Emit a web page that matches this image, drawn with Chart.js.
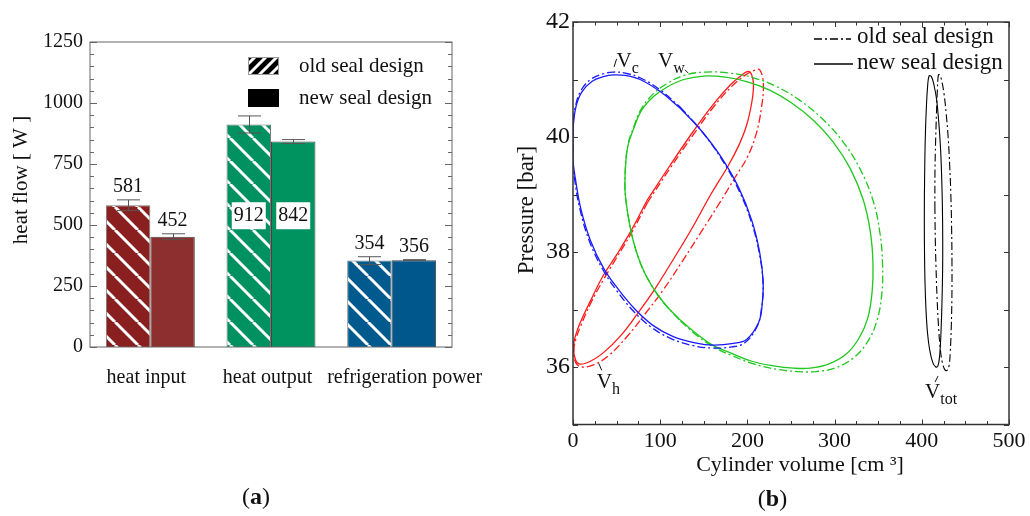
<!DOCTYPE html>
<html>
<head>
<meta charset="utf-8">
<script src="https://cdn.jsdelivr.net/npm/chart.js@4.4.1/dist/chart.umd.min.js"></script>
<style>
  html, body { margin: 0; padding: 0; background: #fff; }
  #wrap { position: relative; width: 1030px; height: 516px; overflow: hidden; }
  #boxA { position: absolute; left: 0; top: 0; width: 505px; height: 516px; }
  #boxB { position: absolute; left: 505px; top: 0; width: 525px; height: 516px; }
</style>
</head>
<body>
<div id="wrap">
  <div id="boxA"><canvas id="chartA" width="505" height="516"></canvas></div>
  <div id="boxB"><canvas id="chartB" width="525" height="516"></canvas></div>
</div>
<script>
// ---- panel (a): heat flows ----
const categories = ["heat input", "heat output", "refrigeration power"];
const oldSeal = [581, 912, 354];
const newSeal = [452, 842, 356];
const oldSealErr = [22, 35, 16];
const newSealErr = [12, 8, 2];
const barTicks = [0, 250, 500, 750, 1000, 1250];
const oldColors = ["#8a1f20", "#009160", "#005a8e"];
const newColors = ["#8d2e2f", "#00935f", "#00578b"];

// ---- panel (b): p-V loops, [volume cm3, pressure bar] ----
// each loop starts and ends on a straight-ish stretch so the join does not show
const vcNew = [[123,40.5],[146,40.13],[169,39.67],[190,39.12],[205,38.55],[214,38.0],[218,37.5],[217,37.1],[213,36.78],[199,36.48],[184,36.41],[161,36.38],[140,36.42],[115,36.53],[92,36.72],[72,36.99],[52,37.35],[35,37.72],[20,38.2],[9,38.75],[3,39.25],[0,39.6],[0,40.1],[3,40.5],[10,40.78],[22,40.97],[35,41.05],[46,41.08],[60,41.07],[77,41.0],[100,40.79],[123,40.5]];
const vcOld = [[123,40.52],[146,40.13],[169,39.65],[190,39.08],[205,38.5],[214,37.95],[218,37.42],[216,37.0],[211,36.7],[197,36.42],[182,36.35],[159,36.33],[138,36.37],[113,36.49],[90,36.69],[70,36.96],[50,37.33],[34,37.7],[19,38.18],[8,38.74],[2,39.25],[0,39.62],[0,40.15],[3,40.55],[10,40.83],[22,41.02],[35,41.1],[46,41.13],[60,41.11],[77,41.03],[100,40.82],[123,40.52]];
const vwNew = [[122,36.83],[105,37.1],[90,37.42],[78,37.78],[69,38.2],[63,38.65],[60,39.0],[59.5,39.2],[60.5,39.55],[63,39.85],[69,40.12],[78,40.45],[92,40.7],[108,40.87],[127,41.0],[150,41.06],[175,41.04],[200,40.96],[225,40.82],[250,40.6],[275,40.3],[298,39.92],[318,39.45],[333,38.9],[341,38.35],[344,37.8],[343,37.3],[338,36.85],[328,36.5],[313,36.22],[293,36.05],[272,35.98],[253,35.98],[230,36.02],[205,36.1],[180,36.25],[160,36.38],[140,36.6],[122,36.83]];
const vwOld = [[122,36.82],[105,37.1],[90,37.42],[78,37.78],[69,38.2],[63,38.65],[60,39.0],[59.5,39.2],[60.5,39.56],[63,39.87],[69,40.15],[78,40.48],[92,40.75],[108,40.93],[127,41.07],[152,41.13],[180,41.11],[207,41.03],[233,40.88],[259,40.65],[285,40.33],[309,39.93],[329,39.45],[344,38.9],[352,38.33],[355,37.78],[354,37.25],[348,36.78],[337,36.42],[321,36.15],[300,35.98],[278,35.92],[258,35.92],[234,35.96],[208,36.05],[182,36.2],[161,36.35],[141,36.56],[122,36.82]];
const vhNew = [[85,38.9],[111,39.5],[138,40.1],[160,40.55],[180,40.9],[193,41.07],[201,41.14],[205,41.08],[207,40.9],[205,40.6],[199,40.2],[190,39.85],[178,39.5],[158,39.0],[136,38.4],[115,37.87],[94,37.36],[75,36.95],[55,36.55],[35,36.25],[20,36.1],[8,36.05],[3,36.12],[0.5,36.35],[3,36.55],[8,36.76],[20,37.15],[35,37.6],[50,37.95],[67,38.38],[85,38.9]];
const vhOld = [[85,38.85],[111,39.45],[138,40.04],[160,40.5],[182,40.88],[198,41.08],[208,41.16],[214,41.17],[218.3,40.93],[216,40.5],[210,40.05],[200,39.65],[186,39.3],[168,38.85],[147,38.35],[125,37.83],[103,37.33],[83,36.93],[62,36.53],[41,36.2],[24,36.04],[10,36.0],[3,36.08],[1,36.3],[4,36.52],[9,36.72],[20,37.1],[35,37.52],[50,37.9],[67,38.33],[85,38.85]];
const vtotNew = [[403,39.0],[402.9,38.5],[403.1,38.0],[403.7,37.46],[404.8,37.0],[406.5,36.6],[409,36.3],[412.5,36.08],[416,36.0],[418.5,36.02],[420.5,36.2],[422,36.6],[423.2,37.17],[423.9,37.7],[424,38.2],[423.6,38.8],[422.8,39.3],[421.5,39.8],[419.5,40.25],[417,40.65],[414,40.9],[411,41.05],[408.3,41.06],[406.5,40.85],[405.2,40.5],[404.2,40.1],[403.5,39.6],[403,39.0]];
const vtotOld = [[415,38.8],[415.5,38.2],[416.3,37.74],[417.5,37.2],[419,36.75],[421,36.35],[423.5,36.08],[426.5,35.95],[429,35.94],[431.2,36.02],[432.6,36.25],[433.8,36.7],[434.5,37.2],[434.6,37.8],[434.2,38.4],[433.3,39.0],[432,39.5],[430.2,40.0],[428,40.4],[425.5,40.75],[422.5,41.0],[420.5,41.08],[419,41.08],[417.8,40.8],[416.8,40.4],[415.8,39.9],[415.1,39.4],[415,38.8]];
const volTicks = [0, 100, 200, 300, 400, 500];
const presTicks = [36, 38, 40, 42];

const FONT = "'Liberation Serif', 'Times New Roman', serif";
const INK = "#111";

// white "\" hatch over the bar colour
function hatch(color) {
  const s = 23;
  const c = document.createElement("canvas");
  c.width = s; c.height = s;
  const g = c.getContext("2d");
  g.fillStyle = color;
  g.fillRect(0, 0, s, s);
  g.strokeStyle = "#fff";
  g.lineWidth = 3;
  g.beginPath();
  for (const o of [-s, 0, s]) { g.moveTo(o, 0); g.lineTo(o + s, s); }
  g.stroke();
  return g.createPattern(c, "repeat");
}

// box around the plot + inward ticks
const framePlugin = {
  id: "frame",
  afterDatasetsDraw(chart, args, opts) {
    const { ctx, chartArea: a } = chart;
    ctx.save();
    ctx.strokeStyle = opts.color;
    ctx.lineWidth = opts.width;
    ctx.strokeRect(a.left, a.top, a.right - a.left, a.bottom - a.top);
    ctx.lineWidth = 1;
    for (const t of opts.ticks) {
      const s = chart.scales[t.axis];
      for (let v = t.from; v <= t.to + 1e-9; v += t.step) {
        const p = Math.round(s.getPixelForValue(v)) + 0.5;
        const len = Math.abs(v / t.major - Math.round(v / t.major)) < 1e-6 ? t.len : t.minor;
        ctx.beginPath();
        if (t.axis === "y") {
          ctx.moveTo(a.left, p); ctx.lineTo(a.left + len, p);
          ctx.moveTo(a.right, p); ctx.lineTo(a.right - len, p);
        } else {
          ctx.moveTo(p, a.bottom); ctx.lineTo(p, a.bottom - len);
          ctx.moveTo(p, a.top); ctx.lineTo(p, a.top + len);
        }
        ctx.stroke();
      }
    }
    ctx.restore();
  }
};

function panelLabel(ctx, letter, cx, cy) {
  ctx.save();
  ctx.fillStyle = INK;
  ctx.textBaseline = "middle";
  ctx.textAlign = "left";
  ctx.font = `24px ${FONT}`;
  const wp = ctx.measureText("(").width;
  ctx.font = `bold 24px ${FONT}`;
  const wl = ctx.measureText(letter).width;
  const x = cx - (2 * wp + wl) / 2;
  ctx.font = `24px ${FONT}`;
  ctx.fillText("(", x, cy);
  ctx.fillText(")", x + wp + wl, cy);
  ctx.font = `bold 24px ${FONT}`;
  ctx.fillText(letter, x + wp, cy);
  ctx.restore();
}

// error bars, value labels, category labels, legend and titles for (a)
const barDecor = {
  id: "barDecor",
  afterDatasetsDraw(chart) {
    const { ctx, scales: { x: xs, y } } = chart;
    const sets = [[oldSeal, oldSealErr], [newSeal, newSealErr]];
    ctx.save();
    sets.forEach(([vals, errs], di) => {
      chart.getDatasetMeta(di).data.forEach((bar, i) => {
        const x = Math.round(bar.x) + 0.5;
        const yt = y.getPixelForValue(vals[i] + errs[i]);
        const yb = y.getPixelForValue(vals[i] - errs[i]);
        ctx.strokeStyle = "#555";
        ctx.lineWidth = 1;
        ctx.beginPath();
        ctx.moveTo(x, yt); ctx.lineTo(x, yb);
        ctx.moveTo(x - 11.5, yt); ctx.lineTo(x + 11.5, yt);
        ctx.moveTo(x - 11.5, yb); ctx.lineTo(x + 11.5, yb);
        ctx.stroke();

        ctx.font = `20px ${FONT}`;
        ctx.textAlign = "center";
        ctx.textBaseline = "middle";
        const label = String(vals[i]);
        if (i === 1) {
          // heat output values sit in white boxes inside the bars
          const ly = y.getPixelForValue(540);
          ctx.fillStyle = "#fff";
          ctx.fillRect(bar.x - 17, ly - 13, 34, 27);
          ctx.fillStyle = INK;
          ctx.fillText(label, bar.x, ly + 1);
        } else {
          ctx.fillStyle = INK;
          ctx.fillText(label, bar.x, yt - 13);
        }
      });
    });

    // category labels (last one sits a bit right of its group, as in the figure)
    const shift = [-4, -3.5, 13];
    ctx.font = `20px ${FONT}`;
    ctx.textAlign = "center";
    ctx.textBaseline = "middle";
    ctx.fillStyle = INK;
    categories.forEach((c, i) => ctx.fillText(c, xs.getPixelForValue(i) + shift[i], 378));

    // legend
    ctx.fillStyle = "#000";
    ctx.fillRect(248, 57, 31, 18);
    ctx.save();
    ctx.beginPath();
    ctx.rect(248, 57, 31, 18);
    ctx.clip();
    ctx.strokeStyle = "#fff";
    ctx.lineWidth = 3;
    ctx.beginPath();
    for (let k = -1; k < 4; k++) {
      const x0 = 248 + k * 11;
      ctx.moveTo(x0, 75); ctx.lineTo(x0 + 18, 57);
    }
    ctx.stroke();
    ctx.restore();
    ctx.strokeStyle = "#999";
    ctx.lineWidth = 1;
    ctx.strokeRect(248.5, 57.5, 30, 17);
    ctx.fillStyle = "#000";
    ctx.fillRect(248, 89, 31, 18);
    ctx.font = `21px ${FONT}`;
    ctx.textAlign = "left";
    ctx.textBaseline = "middle";
    ctx.fillStyle = INK;
    ctx.fillText("old seal design", 299, 66);
    ctx.fillText("new seal design", 299, 98);

    // y title
    ctx.save();
    ctx.translate(21, 180);
    ctx.rotate(-Math.PI / 2);
    ctx.textAlign = "center";
    ctx.fillText("heat flow [ W ]", 0, 0);
    ctx.restore();
    ctx.restore();

    panelLabel(ctx, "a", 256, 498);
  }
};

new Chart(document.getElementById("chartA"), {
  type: "bar",
  data: {
    labels: categories,
    datasets: [
      { label: "old seal design", data: oldSeal, backgroundColor: oldColors.map(hatch), borderColor: "#777", borderWidth: 1 },
      { label: "new seal design", data: newSeal, backgroundColor: newColors, borderColor: "#444", borderWidth: 1 }
    ]
  },
  options: {
    responsive: false,
    animation: false,
    datasets: { bar: { categoryPercentage: 0.737, barPercentage: 1 } },
    layout: { padding: { top: 42, right: 53, left: 0, bottom: 0 } },
    plugins: {
      legend: { display: false },
      tooltip: { enabled: false },
      frame: {
        color: "#666", width: 1,
        ticks: [{ axis: "y", from: 0, to: 1250, step: 50, major: 250, len: 7, minor: 4 }]
      }
    },
    scales: {
      x: {
        grid: { display: false, drawTicks: false },
        border: { display: false },
        ticks: { display: false },
        afterFit: (s) => { s.height = 169; }
      },
      y: {
        min: 0, max: 1250,
        grid: { display: false, drawTicks: false },
        border: { display: false },
        ticks: { font: { family: FONT, size: 20 }, color: INK, padding: 7, callback: (v) => String(v) },
        afterBuildTicks: (s) => { s.ticks = barTicks.map((v) => ({ value: v })); },
        afterFit: (s) => { s.width = 90; }
      }
    }
  },
  plugins: [framePlugin, barDecor]
});

// ---- (b) ----
const pts = (arr) => arr.map(([x, y]) => ({ x, y }));
const DASHDOT = [8, 3, 2, 3];
function loop(arr, color, dashed, width) {
  return {
    data: pts(arr),
    showLine: true,
    borderColor: color,
    borderWidth: width || 1.3,
    borderDash: dashed ? DASHDOT : [],
    pointRadius: 0,
    tension: 0.4,
    fill: false
  };
}

const annotations = [
  { v: "V", sub: "c", x: 50, y: 41.22, mark: [-2.5, 0, 0, -8] },
  { v: "V", sub: "w", x: 97.5, y: 41.22, mark: [27, 3, 30, 6] },
  { v: "V", sub: "h", x: 27.2, y: 35.63, mark: [2, -25, 5, -18] },
  { v: "V", sub: "tot", x: 403.7, y: 35.46, mark: [10, -16, 13, -22] }
];

const pvDecor = {
  id: "pvDecor",
  afterDatasetsDraw(chart) {
    const { ctx, scales: { x, y }, chartArea: a } = chart;
    ctx.save();
    ctx.fillStyle = INK;
    ctx.strokeStyle = INK;
    ctx.lineWidth = 1;
    ctx.textBaseline = "alphabetic";
    ctx.textAlign = "left";
    for (const an of annotations) {
      const px = x.getPixelForValue(an.x);
      const py = y.getPixelForValue(an.y);
      ctx.font = `21px ${FONT}`;
      ctx.fillText(an.v, px, py);
      const w = ctx.measureText(an.v).width;
      ctx.font = `16px ${FONT}`;
      ctx.fillText(an.sub, px + w, py + 6);
      ctx.beginPath();
      ctx.moveTo(px + an.mark[0], py + an.mark[1]);
      ctx.lineTo(px + an.mark[2], py + an.mark[3]);
      ctx.stroke();
    }

    // legend
    ctx.strokeStyle = "#000";
    ctx.lineWidth = 1.3;
    ctx.setLineDash(DASHDOT);
    ctx.beginPath(); ctx.moveTo(309, 39); ctx.lineTo(346, 39); ctx.stroke();
    ctx.setLineDash([]);
    ctx.beginPath(); ctx.moveTo(309, 64); ctx.lineTo(348, 64); ctx.stroke();
    ctx.font = `23px ${FONT}`;
    ctx.textBaseline = "middle";
    ctx.fillText("old seal design", 352, 37);
    ctx.fillText("new seal design", 352, 63);

    // axis titles
    ctx.textAlign = "center";
    ctx.font = `22px ${FONT}`;
    ctx.fillText("Cylinder volume [cm \u00b3]", (a.left + a.right) / 2 + 9, 465);
    ctx.save();
    ctx.translate(22, 210);
    ctx.rotate(-Math.PI / 2);
    ctx.font = `23px ${FONT}`;
    ctx.fillText("Pressure [bar]", 0, 0);
    ctx.restore();
    ctx.restore();

    panelLabel(ctx, "b", 267.5, 500);
  }
};

new Chart(document.getElementById("chartB"), {
  type: "scatter",
  data: {
    datasets: [
      loop(vcOld, "#1a1aff", true),
      loop(vcNew, "#1a1aff", false),
      loop(vwOld, "#1ec81e", true),
      loop(vwNew, "#1ec81e", false),
      loop(vhOld, "#ff1a1a", true),
      loop(vhNew, "#ff1a1a", false),
      loop(vtotOld, "#000", true, 1.1),
      loop(vtotNew, "#000", false, 1.1)
    ]
  },
  options: {
    responsive: false,
    animation: false,
    layout: { padding: { top: 22, right: 21, left: 0, bottom: 0 } },
    plugins: {
      legend: { display: false },
      tooltip: { enabled: false },
      frame: {
        color: "#333", width: 1.5,
        ticks: [
          { axis: "x", from: 0, to: 500, step: 25, major: 100, len: 5, minor: 3.5 },
          { axis: "y", from: 35, to: 42, step: 1, major: 1, len: 5, minor: 5 }
        ]
      }
    },
    scales: {
      x: {
        type: "linear", min: 0, max: 500,
        grid: { display: false, drawTicks: false },
        border: { display: false },
        ticks: { font: { family: FONT, size: 22 }, color: INK, padding: 4 },
        afterBuildTicks: (s) => { s.ticks = volTicks.map((v) => ({ value: v })); },
        afterFit: (s) => { s.height = 91.5; }
      },
      y: {
        type: "linear", min: 35, max: 42,
        grid: { display: false, drawTicks: false },
        border: { display: false },
        ticks: { font: { family: FONT, size: 24 }, color: INK, padding: 3 },
        afterBuildTicks: (s) => { s.ticks = presTicks.map((v) => ({ value: v })); },
        afterFit: (s) => { s.width = 68; }
      }
    }
  },
  plugins: [framePlugin, pvDecor]
});
</script>
</body>
</html>
